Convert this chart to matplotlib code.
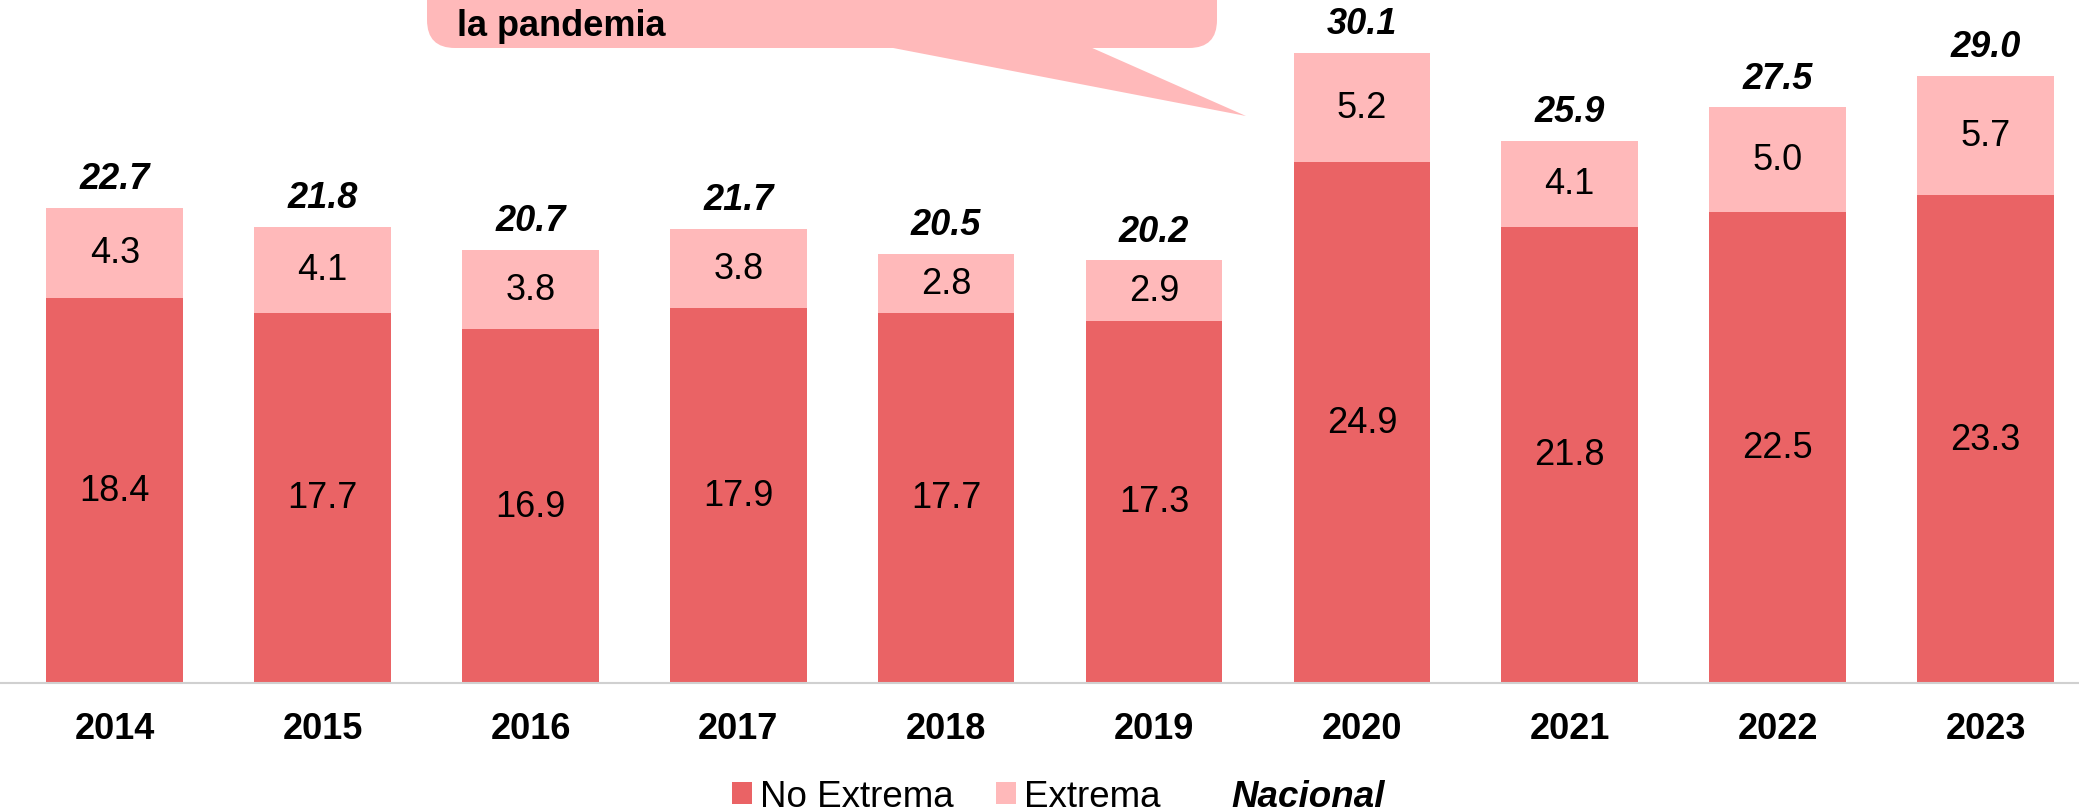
import matplotlib

matplotlib.use("Agg")
import matplotlib.pyplot as plt
import numpy as np
from matplotlib.lines import Line2D
from matplotlib.patches import FancyBboxPatch, Patch, Polygon

plt.rcParams["font.family"] = ["Liberation Sans", "DejaVu Sans"]

years = ["2014", "2015", "2016", "2017", "2018", "2019", "2020", "2021", "2022", "2023"]
no_extrema = [18.4, 17.7, 16.9, 17.9, 17.7, 17.3, 24.9, 21.8, 22.5, 23.3]
extrema = [4.3, 4.1, 3.8, 3.8, 2.8, 2.9, 5.2, 4.1, 5.0, 5.7]
nacional = [22.7, 21.8, 20.7, 21.7, 20.5, 20.2, 30.1, 25.9, 27.5, 29.0]

DARK = "#EA6365"
LIGHT = "#FFB9BA"
FS = 26

fig = plt.figure(figsize=(20.79, 8.12), dpi=100)
ax = fig.add_axes([0, 0.1576, 1, 0.8424])

x = np.arange(len(years))
w = 0.657
ax.bar(x, no_extrema, width=w, color=DARK, edgecolor="none")
ax.bar(x, extrema, width=w, bottom=no_extrema, color=LIGHT, edgecolor="none")

for i in range(len(years)):
    ax.text(x[i], no_extrema[i] / 2, f"{no_extrema[i]:.1f}", ha="center", va="center", fontsize=FS)
    ax.text(x[i], no_extrema[i] + extrema[i] / 2, f"{extrema[i]:.1f}", ha="center", va="center", fontsize=FS)
    top = no_extrema[i] + extrema[i]
    ax.annotate(f"{nacional[i]:.1f}", (x[i], top), xytext=(0, 21), textcoords="offset points",
                ha="center", va="center", fontsize=FS, fontweight="bold", fontstyle="italic")

ax.set_xlim(-0.552, 9.45)
ax.set_ylim(0, 32.68)
ax.set_xticks(x)
ax.set_xticklabels(years, fontsize=26, fontweight="bold")
ax.tick_params(axis="x", length=0, pad=20)
ax.set_yticks([])
for s in ["top", "left", "right"]:
    ax.spines[s].set_visible(False)
ax.spines["bottom"].set_color("#D0D0D0")
ax.spines["bottom"].set_linewidth(1.5)

# callout bubble (pixel coordinates on an overlay)
ov = fig.add_axes([0, 0, 1, 1], zorder=5)
ov.set_xlim(0, 2079)
ov.set_ylim(812, 0)
ov.axis("off")
ov.add_patch(FancyBboxPatch((427, -60), 790, 109, boxstyle="round,pad=0,rounding_size=28",
                            facecolor=LIGHT, edgecolor="none"))
ov.add_patch(Polygon([(888, 48), (1090, 48), (1246, 117)], closed=True, facecolor=LIGHT, edgecolor="none"))
ov.text(457, 36, "la pandemia", fontsize=26, fontweight="bold", va="baseline", ha="left")

handles = [Patch(facecolor=DARK), Patch(facecolor=LIGHT), Line2D([], [], linestyle="none")]
leg = fig.legend(handles, ["No Extrema", "Extrema", "Nacional"], loc="center", bbox_to_anchor=(0.509, 0.018),
                 ncol=3, frameon=False, fontsize=26.5, handlelength=0.55, handleheight=0.55,
                 handletextpad=0.22, columnspacing=1.15, borderpad=0)
leg.get_texts()[2].set_fontweight("bold")
leg.get_texts()[2].set_fontstyle("italic")

fig.savefig("out.png", dpi=100)
